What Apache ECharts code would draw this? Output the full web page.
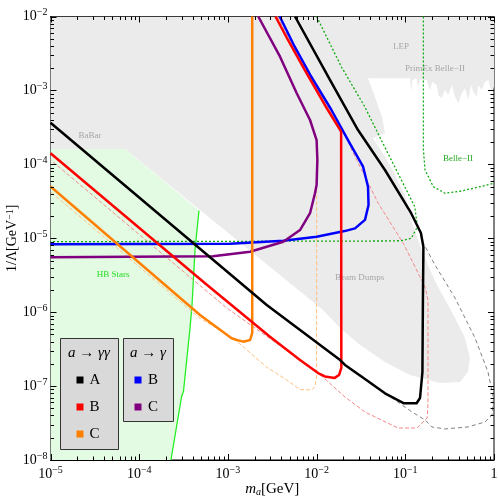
<!DOCTYPE html>
<html><head><meta charset="utf-8">
<script src="https://cdn.jsdelivr.net/npm/echarts@6/dist/echarts.min.js"></script>
<style>html,body{margin:0;padding:0;background:#fff}#c{width:498px;height:499px}</style>
</head><body><div id="c"></div>
<script>
// ---------- data (mass m_a in GeV, coupling 1/Lambda in GeV^-1) ----------
const excludedGray = [[1e-5,1e-2],[1,1e-2],[1.0,1.12e-3],[0.942,9.61e-4],[0.863,1.38e-3],[0.792,1.31e-3],[0.727,1.01e-3],[0.665,1.18e-3],[0.638,8.22e-4],[0.584,9.61e-4],[0.551,1.18e-3],[0.513,7.42e-4],[0.471,1.07e-3],[0.432,9.14e-4],[0.396,6.70e-4],[0.363,8.22e-4],[0.334,1.18e-3],[0.305,8.67e-4],[0.280,1.01e-3],[0.257,7.82e-4],[0.236,8.67e-4],[0.226,1.18e-3],[0.202,1.31e-3],[0.190,1.01e-3],[0.174,1.38e-3],[0.1465,1.41e-3],[0.138,1.12e-3],[0.134,1.46e-3],[0.120,1.38e-3],[0.116,9.61e-4],[0.113,1.46e-3],[3.80e-2,1.46e-3],[4.56e-2,8.15e-4],[5.46e-2,4.37e-4],[5.90e-2,2.65e-4],[4.32e-2,2.27e-4],[6.72e-2,9.80e-5],[9.92e-2,3.85e-5],[0.122,1.51e-5],[0.1465,8.11e-6],[0.180,4.35e-6],[0.228,2.33e-6],[0.303,1.25e-6],[0.363,8.34e-7],[0.471,4.48e-7],[0.536,2.40e-7],[0.509,1.55e-7],[0.414,1.14e-7],[0.246,1.10e-7],[0.113,1.41e-7],[5.90e-2,2.12e-7],[3.09e-2,3.60e-7],[1.84e-2,6.11e-7],[1.18e-2,1.07e-6],[6.92e-5,1.61e-4],[1e-5,1.61e-4]];
const hbRegion = [[1e-5,1e-8],[1e-5,1.61e-4],[6.92e-5,1.61e-4],[4.72e-4,2.37e-5],[4.26e-4,6.94e-6],[3.94e-4,1.25e-6],[3.74e-4,6.11e-7],[3.16e-4,8.58e-8],[3.00e-4,7.12e-8],[2.28e-4,1e-8]];
const hbLine = [[2.28e-4,1e-8],[3.00e-4,7.12e-8],[3.16e-4,8.58e-8],[3.74e-4,6.11e-7],[3.94e-4,1.25e-6],[4.26e-4,6.94e-6],[4.72e-4,2.37e-5]];
const belle2Left = [[1.00e-2,1e-2],[1.90e-2,2.09e-3],[3.49e-2,6.02e-4],[5.36e-2,2.13e-4],[8.27e-2,7.56e-5],[0.128,2.67e-5],[0.137,1.43e-5],[0.117,9.99e-6],[9.01e-2,9.27e-6],[5.90e-2,9.18e-6],[1e-5,8.98e-6]];
const belle2Right = [[0.160,1e-2],[0.160,1.56e-4],[0.167,8.38e-5],[0.207,4.98e-5],[0.280,4.06e-5],[0.430,4.36e-5],[0.752,5.09e-5],[1.0,5.54e-5]];
const dashA = [[5.71e-3,1e-2],[1.42e-2,1.38e-3],[2.93e-2,2.91e-4],[5.90e-2,8.38e-5],[0.116,2.20e-5],[0.150,1.18e-5],[0.153,9.47e-6],[0.171,7.38e-6],[0.216,4.35e-6],[0.363,1.56e-6],[0.611,4.48e-7],[0.856,1.55e-7],[0.987,6.90e-8],[0.949,4.07e-8],[0.792,3.27e-8],[0.509,2.80e-8],[0.280,2.63e-8],[0.200,2.80e-8],[0.167,3.48e-8],[0.119,4.46e-8],[7.65e-2,6.49e-8],[5.90e-2,7.99e-8],[3.23e-2,1.34e-7],[2.09e-2,1.93e-7],[1.84e-2,2.25e-7],[2.74e-3,1.25e-6],[5.52e-4,6.32e-6],[1e-5,3.66e-4]];
const dashB = [[3.62e-3,1e-2],[5.01e-3,4.81e-3],[7.69e-3,1.89e-3],[1.42e-2,5.43e-4],[2.07e-2,2.63e-4],[2.49e-2,1.56e-4],[4.96e-2,2.97e-5],[9.49e-2,8.55e-6],[0.140,3.36e-6],[0.167,2.19e-6],[0.180,1.46e-6],[0.180,5.55e-8],[0.176,3.70e-8],[0.136,2.71e-8],[8.27e-2,2.71e-8],[3.51e-2,4.46e-8],[2.09e-2,7.12e-8],[1.00e-2,1.57e-7],[9.69e-4,1.14e-6],[1e-5,1.15e-4]];
const dashC = [[2.20e-3,1e-2],[3.87e-3,2.86e-3],[5.97e-3,9.14e-4],[8.43e-3,3.98e-4],[1.00e-2,2.13e-4],[1.00e-2,1.34e-7],[9.59e-3,9.81e-8],[8.81e-3,8.86e-8],[6.50e-3,8.99e-8],[4.60e-3,1.21e-7],[2.76e-3,1.79e-7],[1.15e-3,4.43e-7],[4.85e-4,8.26e-7],[1e-5,4.26e-5]];
const gg_A = [[5.71e-3,1e-2],[1.42e-2,1.38e-3],[2.93e-2,2.91e-4],[5.90e-2,8.38e-5],[0.116,2.20e-5],[0.150,1.18e-5],[0.160,7.62e-6],[0.158,1.46e-6],[0.156,1.55e-7],[0.1465,6.90e-8],[0.134,5.85e-8],[0.0967,5.85e-8],[5.90e-2,7.99e-8],[3.23e-2,1.34e-7],[2.09e-2,1.93e-7],[1.84e-2,2.25e-7],[2.74e-3,1.25e-6],[5.52e-4,6.32e-6],[1e-5,3.66e-4]];
const gg_B = [[3.44e-3,1e-2],[4.76e-3,4.81e-3],[7.34e-3,1.89e-3],[1.34e-2,5.43e-4],[1.89e-2,2.77e-4],[1.90e-2,1.76e-7],[1.79e-2,1.41e-7],[1.60e-2,1.29e-7],[1.24e-2,1.35e-7],[1.04e-2,1.50e-7],[6.50e-3,2.25e-7],[2.98e-3,4.66e-7],[5.52e-4,2.46e-6],[1e-5,1.41e-4]];
const gg_C = [[1.88e-3,1e-2],[1.88e-3,5.23e-7],[1.78e-3,4.20e-7],[1.49e-3,3.99e-7],[1.26e-3,4.20e-7],[1.10e-3,4.43e-7],[4.85e-4,9.16e-7],[1e-5,5.01e-5]];
const g_B = [[3.84e-3,1e-2],[5.66e-3,3.90e-3],[8.71e-3,1.53e-3],[1.47e-2,5.43e-4],[2.26e-2,2.13e-4],[3.34e-2,9.29e-5],[3.80e-2,4.98e-5],[3.85e-2,2.82e-5],[3.51e-2,1.77e-5],[2.71e-2,1.36e-5],[2.07e-2,1.25e-5],[1.00e-2,1.05e-5],[4.21e-3,9.27e-6],[1.06e-3,8.44e-6],[1e-5,8.29e-6]];
const g_C = [[2.20e-3,1e-2],[3.87e-3,2.86e-3],[5.97e-3,9.14e-4],[8.43e-3,3.98e-4],[1.00e-2,2.13e-4],[1.02e-2,1.15e-4],[1.00e-2,5.25e-5],[9.59e-3,4.06e-5],[8.43e-3,2.18e-5],[6.50e-3,1.29e-5],[4.21e-3,8.98e-6],[1.78e-3,6.58e-6],[6.79e-4,5.70e-6],[1e-5,5.53e-6]];
const regionLabels = [
  {text:'BaBar', at:[2.79e-5,2.45e-4], color:'#a6a6a6'},
  {text:'LEP', at:[8.94e-2,3.93e-3], color:'#a6a6a6'},
  {text:'PrimEx Belle\u2212II', at:[0.216,1.95e-3], color:'#a6a6a6'},
  {text:'Belle\u2212II', at:[0.393,1.18e-4], color:'#22aa22'},
  {text:'HB Stars', at:[5.07e-5,3.18e-6], color:'#22dd22'},
  {text:'Beam Dumps', at:[3.06e-2,2.93e-6], color:'#a6a6a6'}
];
const xDecades = [-5,-4,-3,-2,-1,0];
const yDecades = [-8,-7,-6,-5,-4,-3,-2];

// ---------- helpers ----------
const FONT = "'Liberation Serif', 'DejaVu Serif', serif";
function supLabel(v){
  const e = Math.round(Math.log10(v));
  if (e === 0) return '{b|1}';
  return '{b|10}{s|\u2212' + (-e) + '}';
}
const labelRich = {b:{fontFamily:FONT,fontSize:14,color:'#000',lineHeight:18},
                   s:{fontFamily:FONT,fontSize:10,color:'#000',verticalAlign:'top',lineHeight:12}};

function polygon(pts, color){
  return {type:'custom', data:pts, silent:true, clip:true, encode:{x:0,y:1},
    renderItem(params, api){
      if (params.dataIndex !== 0) return null;
      return {type:'polygon', shape:{points:pts.map(p=>api.coord(p))}, style:{fill:color}};
    }};
}
function line(pts, color, width, type){
  return {type:'line', data:pts, showSymbol:false, symbol:'none', clip:true, silent:true,
    lineStyle:{color, width, type: type||'solid', cap:'butt', join:'round'}, z:3};
}
// tick marks (major decades + minor 2..9) on all four sides
const tickData = [];
xDecades.forEach(e=>{ for(let m=1;m<=9;m++){ const v=m*Math.pow(10,e); if(v<=1.0000001) tickData.push([v,1e-8,m===1?2:1]); if(e===0) break; }});
yDecades.forEach(e=>{ for(let m=1;m<=9;m++){ const v=m*Math.pow(10,e); if(v<=1.0000001e-2) tickData.push([1e-5,v,m===1?4:3]); if(e===-2) break; }});

const chart = echarts.init(document.getElementById('c'), null, {renderer:'canvas'});
const option = {
  animation:false,
  backgroundColor:'#fff',
  grid:{left:50.5, right:4, top:16.5, bottom:39, show:true, borderColor:'#000', borderWidth:1, backgroundColor:'transparent', containLabel:false, outerBoundsMode:'none'},
  xAxis:{type:'log', logBase:10, min:1e-5, max:1, interval:1,
    axisLine:{show:true, lineStyle:{color:'#000',width:1}}, axisTick:{show:false}, splitLine:{show:false},
    axisLabel:{formatter:supLabel, rich:labelRich, margin:5, showMinLabel:true, showMaxLabel:true, hideOverlap:false},
    name:'{i|m}{sub|a}{n|[GeV]}', nameLocation:'middle', nameGap:22, nameMoveOverlap:false,
    nameTextStyle:{rich:{i:{fontFamily:FONT,fontStyle:'italic',fontSize:15,color:'#000'},
                          sub:{fontFamily:FONT,fontStyle:'italic',fontSize:10,color:'#000',verticalAlign:'bottom',lineHeight:12},
                          n:{fontFamily:FONT,fontSize:15,color:'#000'}}}},
  yAxis:{type:'log', logBase:10, min:1e-8, max:1e-2, interval:1,
    axisLine:{show:true, lineStyle:{color:'#000',width:1}}, axisTick:{show:false}, splitLine:{show:false},
    axisLabel:{formatter:supLabel, rich:labelRich, margin:3, showMinLabel:true, showMaxLabel:true, hideOverlap:false},
    name:'{n|1/\u039b[GeV}{s|\u22121}{n|]}', nameLocation:'middle', nameGap:31, nameMoveOverlap:false,
    nameTextStyle:{rich:{n:{fontFamily:FONT,fontSize:14,color:'#000'},
                          s:{fontFamily:FONT,fontSize:10,color:'#000',verticalAlign:'top',lineHeight:12}}}},
  series:[
    polygon(excludedGray, '#ebebeb'),
    polygon(hbRegion, '#e3fbe3'),
    {type:'custom', data:regionLabels.map(d=>d.at), silent:true, encode:{x:0,y:1}, z:2,
      renderItem(params, api){
        const d = regionLabels[params.dataIndex]; const p = api.coord(d.at);
        return {type:'text', x:p[0], y:p[1], style:{text:d.text, fill:d.color, font:"9px "+FONT, align:'center', verticalAlign:'middle'}};
      }},
    line(hbLine, '#22ee22', 1.3),
    line(dashA, '#808080', 1, [4,3]),
    line(dashB, '#f28a8a', 1, [4,2]),
    line(dashC, '#ffc080', 1, [4,2]),
    line(belle2Left, '#11aa11', 1.3, [2,2]),
    line(belle2Right, '#11aa11', 1.3, [2,2]),
    line(g_B, '#0000ff', 2.5),
    line(g_C, '#800080', 2.5),
    line(gg_C, '#ff8000', 2.5),
    line(gg_B, '#ff0000', 2.5),
    line(gg_A, '#000000', 2.5),
    {type:'custom', data:tickData, silent:true, encode:{x:0,y:1}, z:10, clip:false,
      renderItem(params, api){
        const cs = params.coordSys; const kind = api.value(2);
        const st = {stroke:'#000', lineWidth:1};
        if (kind <= 2){
          const x = Math.round(api.coord([api.value(0),1e-8])[0])+0.5; const L = kind===2?6:3.5;
          return {type:'group', children:[
            {type:'line', shape:{x1:x,y1:cs.y+cs.height,x2:x,y2:cs.y+cs.height-L}, style:st},
            {type:'line', shape:{x1:x,y1:cs.y,x2:x,y2:cs.y+L}, style:st}]};
        } else {
          const y = Math.round(api.coord([1e-5,api.value(1)])[1])+0.5; const L = kind===4?6:3.5;
          return {type:'group', children:[
            {type:'line', shape:{x1:cs.x,y1:y,x2:cs.x+L,y2:y}, style:st},
            {type:'line', shape:{x1:cs.x+cs.width,y1:y,x2:cs.x+cs.width-L,y2:y}, style:st}]};
        }
      }}
  ],
  graphic:[
    {type:'rect', shape:{x:60.5,y:338.5,width:58,height:111}, style:{fill:'#d9d9d9',stroke:'#333',lineWidth:1}, z:100},
    {type:'text', x:89, y:353, style:{text:'{i|a} \u2192 {i|\u03b3\u03b3}', align:'center', verticalAlign:'middle',
      rich:{i:{fontFamily:FONT,fontStyle:'italic',fontSize:15,fill:'#000'}}, font:"15px "+FONT, fill:'#000'}, z:101},
    {type:'rect', shape:{x:76.5,y:376.5,width:7,height:7}, style:{fill:'#000000'}, z:101},
    {type:'text', x:89.5, y:380, style:{text:'A', font:"15px "+FONT, fill:'#000', verticalAlign:'middle'}, z:101},
    {type:'rect', shape:{x:76.5,y:403.5,width:7,height:7}, style:{fill:'#ff0000'}, z:101},
    {type:'text', x:89.5, y:407, style:{text:'B', font:"15px "+FONT, fill:'#000', verticalAlign:'middle'}, z:101},
    {type:'rect', shape:{x:76.5,y:430.5,width:7,height:7}, style:{fill:'#ff8000'}, z:101},
    {type:'text', x:89.5, y:434, style:{text:'C', font:"15px "+FONT, fill:'#000', verticalAlign:'middle'}, z:101},
    {type:'rect', shape:{x:123.5,y:338.5,width:50,height:83}, style:{fill:'#d9d9d9',stroke:'#333',lineWidth:1}, z:100},
    {type:'text', x:148, y:353, style:{text:'{i|a} \u2192 {i|\u03b3}', align:'center', verticalAlign:'middle',
      rich:{i:{fontFamily:FONT,fontStyle:'italic',fontSize:15,fill:'#000'}}, font:"15px "+FONT, fill:'#000'}, z:101},
    {type:'rect', shape:{x:134.5,y:376.5,width:7,height:7}, style:{fill:'#0000ff'}, z:101},
    {type:'text', x:148, y:380, style:{text:'B', font:"15px "+FONT, fill:'#000', verticalAlign:'middle'}, z:101},
    {type:'rect', shape:{x:134.5,y:403.5,width:7,height:7}, style:{fill:'#800080'}, z:101},
    {type:'text', x:148, y:407, style:{text:'C', font:"15px "+FONT, fill:'#000', verticalAlign:'middle'}, z:101}
  ]
};
chart.setOption(option);
</script></body></html>
